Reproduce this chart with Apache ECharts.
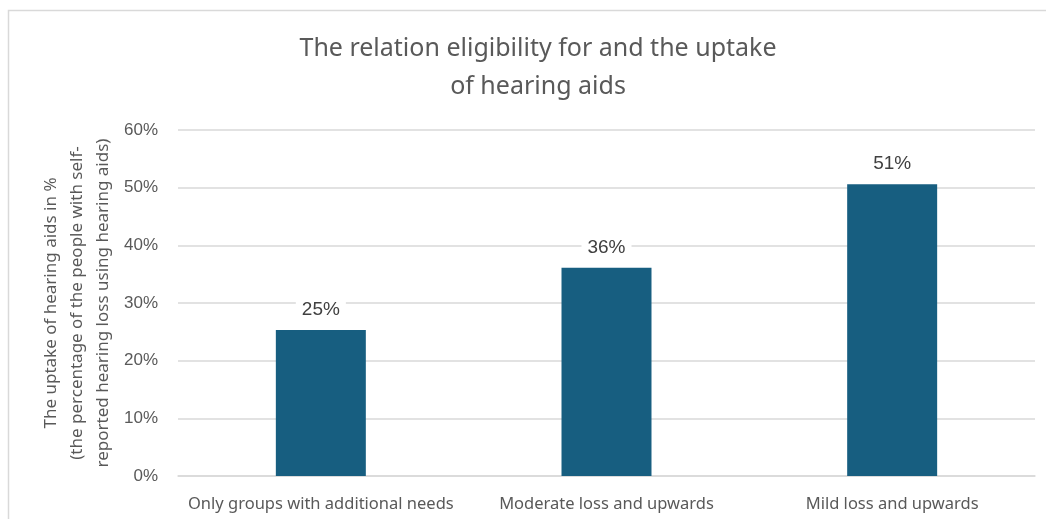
<!DOCTYPE html>
<html lang="en">
<head>
  <meta charset="UTF-8">
  <title>Eligibility and uptake of hearing aids</title>
  <script src="https://cdn.jsdelivr.net/npm/echarts@6/dist/echarts.min.js"></script>
  <style>
    html, body { margin: 0; padding: 0; background: #fff; }
    #chart { width: 1046px; height: 519px; }
  </style>
</head>
<body>
  <div id="chart"></div>
  <script>
    const categories = ['Only groups with additional needs', 'Moderate loss and upwards', 'Mild loss and upwards'];
    const uptake = [25.3, 36.1, 50.6];
    const yTicks = [0, 10, 20, 30, 40, 50, 60];

    const textGray = '#595959';
    const chart = echarts.init(document.getElementById('chart'));

    chart.setOption({
      backgroundColor: '#fff',
      animation: false,
      graphic: [{
        type: 'rect',
        shape: { x: 8.5, y: 10.5, width: 1200, height: 700 },
        style: { fill: 'none', stroke: '#d9d9d9', lineWidth: 1.5 },
        silent: true
      }],
      title: {
        text: 'The relation eligibility for and the uptake\nof hearing aids',
        left: 533,
        textAlign: 'center',
        top: 25,
        textStyle: {
          fontFamily: 'Noto Sans',
          fontSize: 25,
          fontWeight: 'normal',
          color: textGray,
          lineHeight: 38
        }
      },
      grid: { left: 178, right: 11, top: 130, bottom: 43, containLabel: false },
      xAxis: {
        type: 'category',
        data: categories,
        axisTick: { show: false },
        axisLine: { lineStyle: { color: '#d9d9d9', width: 1.5 } },
        axisLabel: {
          interval: 0,
          fontFamily: 'Noto Sans',
          fontSize: 16.5,
          color: textGray,
          margin: 20
        }
      },
      yAxis: {
        type: 'value',
        min: yTicks[0],
        max: yTicks[yTicks.length - 1],
        interval: 10,
        name: 'The uptake of hearing aids in %\n(the percentage of the people with self-\nreported hearing loss using hearing aids)',
        nameLocation: 'middle',
        nameGap: 62,
        nameMoveOverlap: false,
        nameTextStyle: {
          fontFamily: 'Noto Sans',
          fontSize: 17,
          color: textGray,
          lineHeight: 26
        },
        axisLine: { show: false },
        axisTick: { show: false },
        axisLabel: {
          formatter: v => v + '%',
          fontFamily: 'Liberation Sans',
          fontSize: 17,
          color: textGray,
          margin: 20
        },
        splitLine: { lineStyle: { color: '#d9d9d9', width: 1.5 } }
      },
      series: [{
        type: 'bar',
        data: uptake,
        barWidth: '31.5%',
        itemStyle: { color: '#175E80' },
        label: {
          show: true,
          position: 'top',
          distance: 11,
          formatter: p => Math.round(p.value) + '%',
          fontFamily: 'Liberation Sans',
          fontSize: 19,
          color: '#404040',
          backgroundColor: '#fff',
          padding: [0, 6]
        }
      }]
    });
  </script>
</body>
</html>
